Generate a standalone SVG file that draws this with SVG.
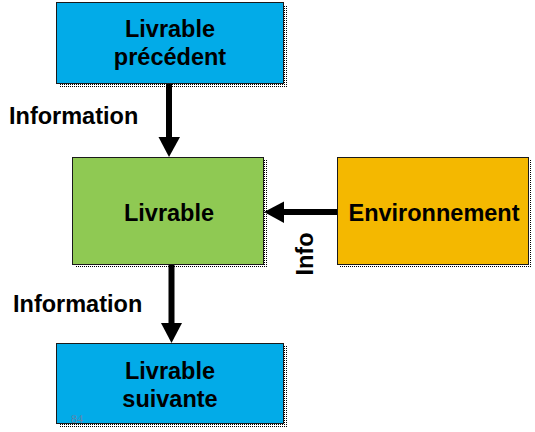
<svg xmlns="http://www.w3.org/2000/svg" width="535" height="432" viewBox="0 0 535 432">
<defs>
<pattern id="dots" width="2" height="2" patternUnits="userSpaceOnUse">
<rect x="0" y="0" width="1" height="1" fill="#000"/>
</pattern>
<style>
.lbl{font-family:"Liberation Sans",Arial,sans-serif;font-weight:bold;font-size:23.5px;fill:#000;}
.box{stroke:#1a1a1a;stroke-width:1;}
.shadow{fill:url(#dots);}
.arrow{fill:#000;}
</style>
</defs>
<rect width="535" height="432" fill="#fff"/>
<g id="connectors">
<rect class="arrow" x="166" y="84" width="6" height="54"/>
<polygon class="arrow" points="158.5,137 180,137 169,157"/>
<rect class="arrow" x="282" y="209" width="55" height="6"/>
<polygon class="arrow" points="284,201.5 284,223 264,212"/>
<rect class="arrow" x="168.5" y="265" width="6" height="59"/>
<polygon class="arrow" points="161,323 182,323 171.5,343"/>
</g>
<g id="node-precedent">
<rect class="shadow" x="59" y="5" width="228" height="82"/>
<rect class="box" x="56.5" y="2.5" width="227" height="81" fill="#02ABE8"/>
<text class="lbl" x="170" y="37" text-anchor="middle">Livrable</text>
<text class="lbl" x="170" y="65" text-anchor="middle">précédent</text>
</g>
<g id="node-livrable">
<rect class="shadow" x="75" y="160" width="192" height="108"/>
<rect class="box" x="72.5" y="157.5" width="191" height="107" fill="#8FC953"/>
<text class="lbl" x="169" y="221" text-anchor="middle">Livrable</text>
</g>
<g id="node-environnement">
<rect class="shadow" x="340" y="160" width="192" height="108"/>
<rect class="box" x="337.5" y="157.5" width="191" height="107" fill="#F4B800"/>
<text class="lbl" x="434" y="221" text-anchor="middle">Environnement</text>
</g>
<g id="node-suivante">
<rect class="shadow" x="59" y="346" width="228" height="81"/>
<rect class="box" x="56.5" y="343.5" width="227" height="80" fill="#02ABE8"/>
<text class="lbl" x="170" y="379" text-anchor="middle">Livrable</text>
<text class="lbl" x="170" y="407" text-anchor="middle">suivante</text>
<text x="71" y="423" font-family="'Liberation Serif',serif" font-size="12" fill="#5f85aa">84</text>
</g>
<g id="labels">
<text class="lbl" x="9" y="124">Information</text>
<text class="lbl" x="13" y="312">Information</text>
<text class="lbl" x="0" y="0" font-size="18" text-anchor="middle" transform="translate(313,254) rotate(-90)">Info</text>
</g>
</svg>
